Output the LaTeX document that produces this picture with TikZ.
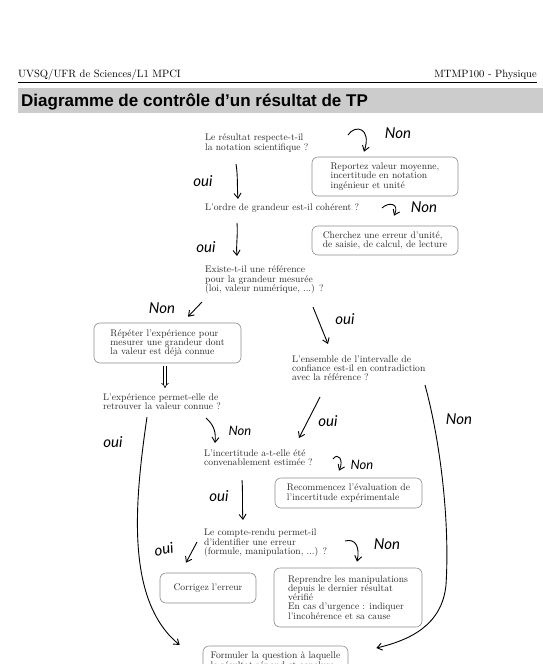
\documentclass[tikz,border=0pt]{standalone}
\usepackage{fontspec}
\newfontfamily\titlefont{Liberation Sans}
\newfontfamily\handfont{Lato}
\usetikzlibrary{arrows.meta,calc}
\newcommand\dqfont{\fontsize{9.6}{9.2}\selectfont}
\newcommand\dhfont{\handfont\itshape\fontsize{15}{15}\selectfont}
\newcommand\dhsfont{\handfont\itshape\fontsize{13}{13}\selectfont}
\tikzset{
  q/.style={anchor=west, inner sep=0pt, align=left, font=\dqfont, text=black!85},
  box/.style={draw=black!45, line width=0.6pt, rounded corners=6pt, align=left,
              font=\dqfont, text=black!85, inner sep=0pt},
  hand/.style={line width=0.9pt, -{Straight Barb[length=5pt,width=7pt]}},
  lab/.style={font=\dhfont, inner sep=0pt},
  labs/.style={font=\dhsfont, inner sep=0pt}
}
\begin{document}
\begin{tikzpicture}[x=1pt,y=-1pt]
\useasboundingbox (0,0) rectangle (543,664);
% header
\node[anchor=base west, inner sep=0pt, font=\fontsize{10.6}{12}\selectfont] (hl) at (18,77) {UVSQ/UFR de Sciences/L1 MPCI};
\node[anchor=base east, inner sep=0pt, font=\fontsize{10.6}{12}\selectfont] (hr) at (537,77) {MTMP100 - Physique};
\draw[line width=0.5pt] (18,82.3) -- (537,82.3);
\fill[black!20] (18,88) rectangle (543,113);
\node[anchor=base west, inner sep=0pt, font=\titlefont\bfseries\fontsize{17}{20}\selectfont] (title) at (21,106.5) {Diagramme de contrôle d’un résultat de TP};

% questions
\node[q] (Q1) at (205,143) {Le résultat respecte-t-il\\la notation scientifique ?};
\node[q] (Q2) at (205,208) {L'ordre de grandeur est-il cohérent ?};
\node[q] (Q3) at (205,280) {Existe-t-il une référence\\pour la grandeur mesurée\\(loi, valeur numérique, ...) ?};
\node[q] (Q4) at (103,402) {L'expérience permet-elle de\\retrouver la valeur connue ?};
\node[q] (Q5) at (292,368.5) {L'ensemble de l'intervalle de\\confiance est-il en contradiction\\avec la référence ?};
\node[q] (Q6) at (204,457.5) {L'incertitude a-t-elle été\\convenablement estimée ?};
\node[q] (Q7) at (204,543) {Le compte-rendu permet-il\\d'identifier une erreur\\(formule, manipulation, ...) ?};

% boxes
\node[box, minimum width=146, minimum height=39] (B1) at (385,176.5) {Reportez valeur moyenne,\\incertitude en notation\\ingénieur et unité};
\node[box, minimum width=146, minimum height=29] (B2) at (385,240.5) {Cherchez une erreur d'unité,\\de saisie, de calcul, de lecture};
\node[box, minimum width=147, minimum height=40] (B3) at (167.5,343) {Répéter l'expérience pour\\mesurer une grandeur dont\\la valeur est déjà connue};
\node[box, minimum width=147, minimum height=30] (B4) at (348.5,493) {Recommencez l'évaluation de\\l'incertitude expérimentale};
\node[box, minimum width=96, minimum height=30] (B5) at (208,588) {Corrigez l'erreur};
\node[box, minimum width=148, minimum height=59] (B6) at (348,597.5) {Reprendre les manipulations\\depuis le dernier résultat\\vérifié\\En cas d'urgence : indiquer\\l'incohérence et sa cause};
\node[box, minimum width=145, minimum height=30] (B7) at (275.5,661) {Formuler la question à laquelle\\le résultat répond et conclure};

% hand-drawn arrows
\draw[hand] ($(Q1.west)+(143,-8)$) .. controls +(7,-11) and +(8,-24) .. ($(B1.north)+(-21,-5)$);
\draw[hand] ($(Q1.west)+(31,21)$) .. controls +(2,12) and +(-1,-12) .. ($(Q2.west)+(33,-9)$);
\draw[hand] ($(Q2.west)+(177,0)$) .. controls +(6,-6) and +(6,-13) .. ($(B2.north)+(9,-10)$);
\draw[hand] ($(Q2.west)+(32,15)$) .. controls +(1,12) and +(-1,-12) .. ($(Q3.west)+(32,-24)$);
\draw[hand] ($(Q3.west)+(-3,22)$) -- ($(B3.north)+(20.5,-6)$);
\draw[hand] ($(Q3.west)+(108,27)$) -- ($(Q5.west)+(36,-24.5)$);
\draw[line width=0.6pt, double distance=2pt, -{Implies}] ($(B3.south)+(-2.5,3)$) -- ($(Q4.west)+(62,-14)$);
\draw[hand] ($(Q4.west)+(44,15)$) .. controls +(-12,83) and +(-55,-45) .. ($(B7.west)+(-23,-16)$);
\draw[hand] ($(Q4.west)+(103,16)$) .. controls +(8,7) and +(1,-11) .. ($(Q6.west)+(11,-14.5)$);
\draw[hand] ($(Q5.west)+(28,28.5)$) -- ($(Q6.west)+(95,-19.5)$);
\draw[hand] ($(Q5.west)+(133,16.5)$) .. controls +(15,55) and +(4,-65) .. ($(Q5.west)+(154,216.5)$)
            .. controls +(-4,40) and +(34,-8) .. ($(B7.east)+(28,-13)$);
\draw[hand] ($(Q6.west)+(129,1.5)$) .. controls +(5,-7) and +(5,-11) .. ($(B4.north)+(-9.5,-7)$);
\draw[hand] ($(Q6.west)+(38,22.5)$) .. controls +(1,13) and +(-1,-13) .. ($(Q7.west)+(39,-23)$);
\draw[hand] ($(Q7.west)+(-7,-1)$) -- ($(B5.north)+(-22,-10)$);
\draw[hand] ($(Q7.west)+(141,-2)$) .. controls +(11,-3) and +(3,-14) .. ($(B6.north)+(9,-6)$);

% hand labels
\node[lab] (L1) at (398,133) {Non};
\node[lab] (L2) at (203,181) {oui};
\node[lab] (L3) at (424,207) {Non};
\node[lab] (L4) at (206,247) {oui};
\node[lab] (L5) at (162,308) {Non};
\node[lab] (L6) at (345,319) {oui};
\node[lab] (L8) at (113,442) {oui};
\node[labs] (L9) at (240,431) {Non};
\node[lab] (L10) at (328,421) {oui};
\node[lab] (L11) at (459,419) {Non};
\node[labs] (L12) at (362,465) {Non};
\node[lab] (L13) at (219,496) {oui};
\node[lab, rotate=10] (L14) at (164,549) {oui};
\node[lab] (L15) at (387,544) {Non};
\end{tikzpicture}
\end{document}
